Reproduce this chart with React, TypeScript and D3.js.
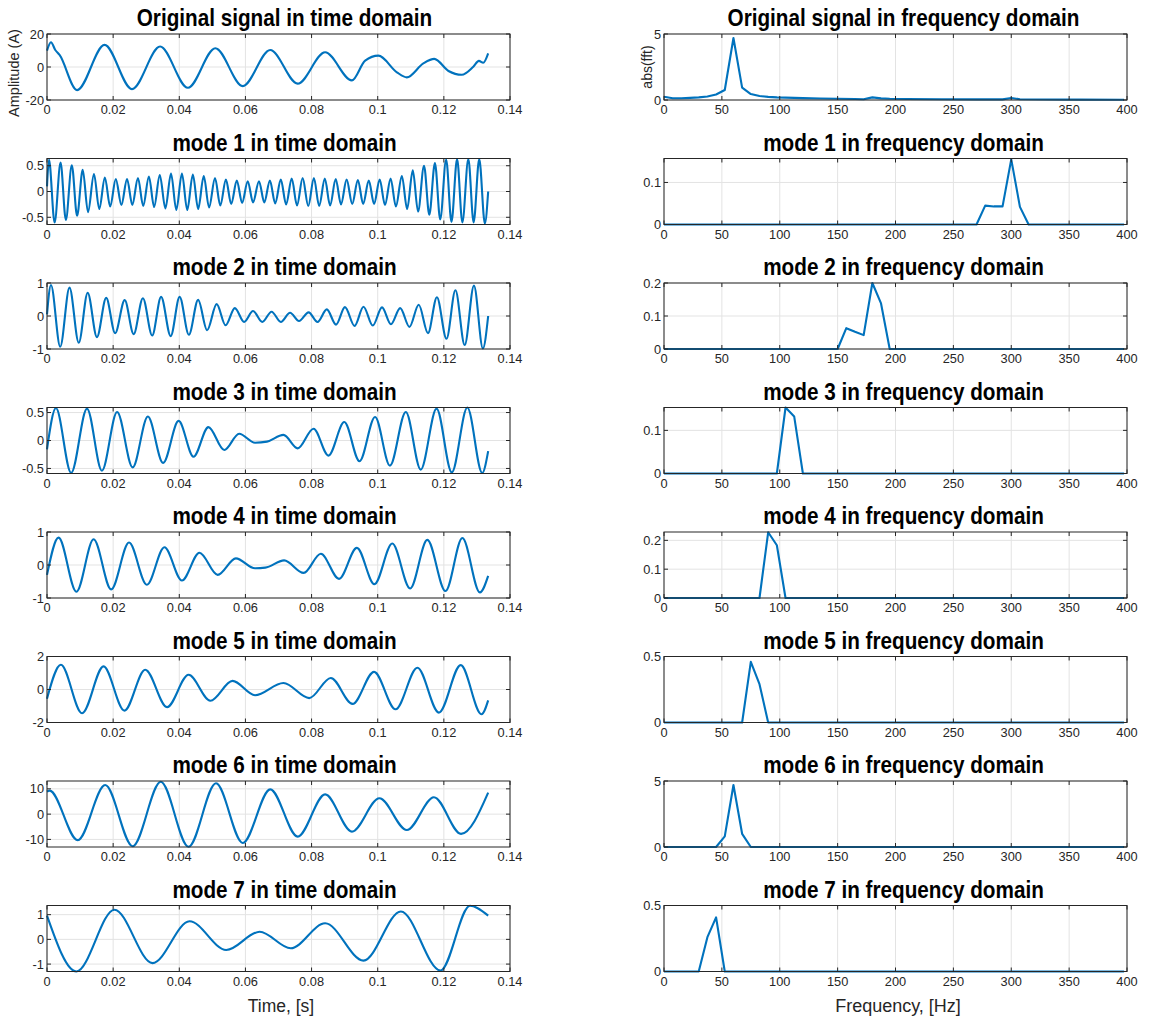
import React from "react";
import * as d3 from "d3";

type P = [number, number];

const timeTicks = [0, 0.02, 0.04, 0.06, 0.08, 0.1, 0.12, 0.14];
const freqTicks = [0, 50, 100, 150, 200, 250, 300, 350, 400];

const leftTitles = [
  "Original signal in time domain",
  "mode 1 in time domain",
  "mode 2 in time domain",
  "mode 3 in time domain",
  "mode 4 in time domain",
  "mode 5 in time domain",
  "mode 6 in time domain",
  "mode 7 in time domain",
];
const rightTitles = [
  "Original signal in frequency domain",
  "mode 1 in frequency domain",
  "mode 2 in frequency domain",
  "mode 3 in frequency domain",
  "mode 4 in frequency domain",
  "mode 5 in frequency domain",
  "mode 6 in frequency domain",
  "mode 7 in frequency domain",
];

const leftYDomains: P[] = [[-20, 20], [-0.64, 0.64], [-1, 1], [-0.59, 0.59], [-1, 1], [-2, 2], [-13, 13.1], [-1.3, 1.37]];
const leftYTicks = [[-20, 0, 20], [-0.5, 0, 0.5], [-1, 0, 1], [-0.5, 0, 0.5], [-1, 0, 1], [-2, 0, 2], [-10, 0, 10], [-1, 0, 1]];
const rightYDomains: P[] = [[0, 5], [0, 0.157], [0, 0.2], [0, 0.153], [0, 0.229], [0, 0.5], [0, 5], [0, 0.5]];
const rightYTicks = [[0, 5], [0, 0.1], [0, 0.1, 0.2], [0, 0.1], [0, 0.1, 0.2], [0, 0.5], [0, 5], [0, 0.5]];

// time-domain series: [time s, amplitude] read at extrema / shoulders
const originalTime: P[] = [
  [0, 9.9], [0.0012, 15], [0.0025, 10.3], [0.0038, 7.3], [0.0091, -14], [0.0174, 13.4], [0.0257, -13.4],
  [0.0342, 12.4], [0.0426, -12.6], [0.0509, 11.4], [0.0592, -11.6], [0.0675, 10.3], [0.0758, -10.1],
  [0.0841, 8.9], [0.0922, -8.1], [0.0962, 3.9], [0.1002, 6.9], [0.1058, -3.2], [0.1088, -6.3],
  [0.1138, 2.2], [0.1171, 4.9], [0.1214, -2.4], [0.1254, -4.7], [0.1289, 0.2], [0.1306, 3.7],
  [0.1319, 2.6], [0.1334, 8.3],
];
const mode1Time: P[] = [
  [0, 0.1], [0.0006, 0.62], [0.0023, -0.6], [0.0041, 0.56], [0.0057, -0.55], [0.0075, 0.51], [0.0091, -0.47],
  [0.0108, 0.42], [0.0124, -0.4], [0.0142, 0.34], [0.0158, -0.34], [0.0175, 0.27], [0.0191, -0.29],
  [0.0208, 0.24], [0.0225, -0.26], [0.0242, 0.24], [0.0258, -0.26], [0.0275, 0.26], [0.0291, -0.28],
  [0.0308, 0.29], [0.0324, -0.3], [0.0341, 0.32], [0.0358, -0.33], [0.0375, 0.35], [0.0391, -0.36],
  [0.0408, 0.35], [0.0424, -0.36], [0.0441, 0.33], [0.0457, -0.34], [0.0474, 0.3], [0.049, -0.31],
  [0.0508, 0.26], [0.0524, -0.27], [0.0541, 0.23], [0.0557, -0.24], [0.0574, 0.21], [0.059, -0.22],
  [0.0607, 0.2], [0.0623, -0.21], [0.0641, 0.2], [0.0657, -0.21], [0.0674, 0.21], [0.069, -0.23],
  [0.0707, 0.23], [0.0723, -0.25], [0.074, 0.25], [0.0756, -0.27], [0.0773, 0.26], [0.079, -0.28],
  [0.0807, 0.26], [0.0823, -0.28], [0.084, 0.25], [0.0856, -0.27], [0.0873, 0.24], [0.0889, -0.25],
  [0.0906, 0.23], [0.0923, -0.24], [0.094, 0.22], [0.0956, -0.24], [0.0973, 0.21], [0.0989, -0.24],
  [0.1006, 0.23], [0.1022, -0.26], [0.1039, 0.25], [0.1055, -0.29], [0.1073, 0.3], [0.1089, -0.34],
  [0.1106, 0.41], [0.1122, -0.39], [0.114, 0.5], [0.1156, -0.45], [0.1173, 0.55], [0.1189, -0.54],
  [0.1207, 0.62], [0.1223, -0.59], [0.124, 0.63], [0.1256, -0.6], [0.1274, 0.63], [0.129, -0.6],
  [0.1307, 0.63], [0.1324, -0.62], [0.1334, 0],
];
const mode2Time: P[] = [
  [0, 0.05], [0.0012, 0.94], [0.004, -0.93], [0.0068, 0.86], [0.0096, -0.81], [0.0123, 0.7], [0.0151, -0.64],
  [0.0179, 0.55], [0.0206, -0.52], [0.0235, 0.48], [0.0262, -0.55], [0.029, 0.54], [0.0318, -0.59],
  [0.0345, 0.58], [0.0374, -0.61], [0.0401, 0.58], [0.0429, -0.57], [0.0457, 0.49], [0.0484, -0.43],
  [0.0513, 0.36], [0.054, -0.28], [0.0568, 0.24], [0.0596, -0.18], [0.0623, 0.15], [0.0651, -0.18],
  [0.0679, 0.13], [0.0707, -0.18], [0.0735, 0.1], [0.0762, -0.15], [0.0791, 0.11], [0.0818, -0.18],
  [0.0846, 0.2], [0.0874, -0.26], [0.0901, 0.27], [0.093, -0.3], [0.0957, 0.28], [0.0985, -0.29],
  [0.1013, 0.26], [0.104, -0.25], [0.1068, 0.24], [0.1096, -0.33], [0.1124, 0.34], [0.1152, -0.52],
  [0.1179, 0.57], [0.1208, -0.69], [0.1235, 0.78], [0.1263, -0.88], [0.1291, 0.92], [0.1318, -0.98],
  [0.1334, 0],
];
const mode3Time: P[] = [
  [0, -0.16], [0.0027, 0.58], [0.0073, -0.58], [0.0121, 0.57], [0.0166, -0.54], [0.0212, 0.51], [0.0259, -0.48],
  [0.0305, 0.43], [0.0351, -0.4], [0.0398, 0.35], [0.0443, -0.29], [0.0488, 0.24], [0.0536, -0.17],
  [0.0581, 0.12], [0.0629, -0.04], [0.0665, -0.02], [0.0715, 0.1], [0.0758, -0.14], [0.0806, 0.21],
  [0.0851, -0.27], [0.0899, 0.33], [0.0945, -0.37], [0.0992, 0.42], [0.1037, -0.45], [0.1085, 0.51],
  [0.113, -0.52], [0.1178, 0.57], [0.1224, -0.57], [0.1271, 0.59], [0.1316, -0.58], [0.1334, -0.19],
];
const mode4Time: P[] = [
  [0, -0.3], [0.0035, 0.83], [0.0089, -0.81], [0.0141, 0.78], [0.0194, -0.74], [0.0248, 0.68], [0.0302, -0.6],
  [0.0355, 0.54], [0.0408, -0.47], [0.0461, 0.37], [0.0516, -0.3], [0.0571, 0.2], [0.0629, -0.1],
  [0.066, -0.08], [0.0717, 0.14], [0.0776, -0.24], [0.0828, 0.34], [0.0883, -0.42], [0.0937, 0.52],
  [0.099, -0.58], [0.1044, 0.65], [0.1098, -0.71], [0.115, 0.76], [0.1205, -0.79], [0.1256, 0.82],
  [0.1309, -0.83], [0.1334, -0.33],
];
const mode5Time: P[] = [
  [0, -0.56], [0.0042, 1.5], [0.0106, -1.44], [0.0171, 1.4], [0.0234, -1.28], [0.0297, 1.2], [0.0363, -1.07],
  [0.0428, 0.89], [0.0494, -0.68], [0.0561, 0.52], [0.0629, -0.35], [0.0715, 0.39], [0.0793, -0.52],
  [0.0858, 0.7], [0.0924, -0.87], [0.0989, 1.07], [0.1054, -1.2], [0.112, 1.32], [0.1185, -1.4],
  [0.1251, 1.48], [0.1314, -1.5], [0.1334, -0.66],
];
const mode6Time: P[] = [
  [0, 8.9], [0.0008, 9.3], [0.0093, -10.3], [0.0176, 11.5], [0.0259, -12.7], [0.0344, 12.8], [0.0428, -12.9],
  [0.0511, 12.2], [0.0592, -11.4], [0.0675, 9.8], [0.0758, -8.9], [0.0841, 7.8], [0.0922, -6.9],
  [0.1005, 6.3], [0.1088, -6.3], [0.117, 6.7], [0.1252, -7.8], [0.1334, 8.5],
];
const mode7Time: P[] = [
  [0, 0.96], [0.0089, -1.3], [0.0204, 1.2], [0.0319, -0.96], [0.0431, 0.73], [0.0542, -0.43], [0.0643, 0.31],
  [0.0737, -0.36], [0.0841, 0.65], [0.0957, -0.86], [0.107, 1.13], [0.119, -1.26], [0.1279, 1.36],
  [0.1334, 0.96],
];

// frequency-domain series: [Hz, abs(fft)]
const originalFreq: P[] = [
  [0, 0.25], [7.5, 0.13], [15, 0.13], [22.5, 0.16], [30, 0.2], [37.5, 0.27], [45, 0.42], [52.5, 0.76],
  [60, 4.7], [67.5, 0.94], [75, 0.45], [82.5, 0.3], [90, 0.24], [97.5, 0.2], [105, 0.18], [120, 0.14],
  [135, 0.11], [150, 0.1], [165, 0.08], [172.5, 0.06], [180, 0.2], [187.5, 0.12], [195, 0.09], [210, 0.08],
  [240, 0.06], [270, 0.05], [292.5, 0.05], [300, 0.15], [307.5, 0.06], [330, 0.04], [360, 0.03], [397.5, 0.02],
];
const mode1Freq: P[] = [[0, 0], [270, 0], [277.5, 0.045], [285, 0.043], [292.5, 0.043], [300, 0.155], [307.5, 0.042], [315, 0], [397.5, 0]];
const mode2Freq: P[] = [[0, 0], [150, 0], [157.5, 0.063], [165, 0.052], [172.5, 0.042], [180, 0.2], [187.5, 0.138], [195, 0], [397.5, 0]];
const mode3Freq: P[] = [[0, 0], [97.5, 0], [105, 0.153], [112.5, 0.132], [120, 0], [397.5, 0]];
const mode4Freq: P[] = [[0, 0], [82.5, 0], [90, 0.228], [97.5, 0.183], [105, 0], [397.5, 0]];
const mode5Freq: P[] = [[0, 0], [67.5, 0], [75, 0.46], [82.5, 0.29], [90, 0], [397.5, 0]];
const mode6Freq: P[] = [[0, 0], [45, 0], [52.5, 0.8], [60, 4.7], [67.5, 1.0], [75, 0], [397.5, 0]];
const mode7Freq: P[] = [[0, 0], [30, 0], [37.5, 0.26], [45, 0.41], [52.5, 0], [397.5, 0]];

const timeSeries = [originalTime, mode1Time, mode2Time, mode3Time, mode4Time, mode5Time, mode6Time, mode7Time];
const freqSeries = [originalFreq, mode1Freq, mode2Freq, mode3Freq, mode4Freq, mode5Freq, mode6Freq, mode7Freq];

const W = 1153;
const H = 1021;
const PLOT_W = 463;
const PLOT_H = 66;
const ROW0 = 34;
const ROW_STEP = 124.5;
const LEFT_X = 47;
const RIGHT_X = 664;
const LINE = "#0072BD";
const AX = "#262626";
const GRID = "#e3e3e3";
const FONT = "'Liberation Sans', Arial, Helvetica, sans-serif";

function fmt(v: number) {
  return String(v);
}

type PanelProps = {
  x0: number;
  y0: number;
  xDomain: P;
  xTicks: number[];
  yDomain: P;
  yTicks: number[];
  data: P[];
  smooth: boolean;
  title: string;
  titleOffset: number;
};

function Panel({ x0, y0, xDomain, xTicks, yDomain, yTicks, data, smooth, title, titleOffset }: PanelProps) {
  const x = d3.scaleLinear().domain(xDomain).range([x0, x0 + PLOT_W]);
  const y = d3.scaleLinear().domain(yDomain).range([y0 + PLOT_H, y0]);
  const line = d3
    .line<P>()
    .x((d) => x(d[0]))
    .y((d) => y(d[1]))
    .curve(smooth ? d3.curveMonotoneX : d3.curveLinear);
  const tl = 4;
  const bottom = y0 + PLOT_H;
  const right = x0 + PLOT_W;
  const tx = (x0 + right) / 2 + titleOffset;
  const ty = y0 - 8;
  return (
    <g>
      {xTicks.map((t) => (
        <line key={"gx" + t} x1={x(t)} x2={x(t)} y1={y0} y2={bottom} stroke={GRID} strokeWidth={1} />
      ))}
      {yTicks.map((t) => (
        <line key={"gy" + t} x1={x0} x2={right} y1={y(t)} y2={y(t)} stroke={GRID} strokeWidth={1} />
      ))}
      <path d={line(data) || ""} fill="none" stroke={LINE} strokeWidth={2.1} strokeLinejoin="round" />
      <rect x={x0} y={y0} width={PLOT_W} height={PLOT_H} fill="none" stroke={AX} strokeWidth={1} />
      {xTicks.map((t) => (
        <g key={"tx" + t}>
          <line x1={x(t)} x2={x(t)} y1={bottom} y2={bottom - tl} stroke={AX} />
          <line x1={x(t)} x2={x(t)} y1={y0} y2={y0 + tl} stroke={AX} />
          <text x={x(t)} y={bottom + 14} textAnchor="middle" fontSize={12.8} fill={AX} fontFamily={FONT}>
            {fmt(t)}
          </text>
        </g>
      ))}
      {yTicks.map((t) => (
        <g key={"ty" + t}>
          <line x1={x0} x2={x0 + tl} y1={y(t)} y2={y(t)} stroke={AX} />
          <line x1={right} x2={right - tl} y1={y(t)} y2={y(t)} stroke={AX} />
          <text x={x0 - 3} y={y(t) + 4.5} textAnchor="end" fontSize={12.8} fill={AX} fontFamily={FONT}>
            {fmt(t)}
          </text>
        </g>
      ))}
      <text
        transform={`translate(${tx},${ty}) scale(0.9,1)`}
        textAnchor="middle"
        fontSize={23}
        fontWeight="bold"
        fill="#000"
        fontFamily={FONT}
      >
        {title}
      </text>
    </g>
  );
}

export default function App() {
  return (
    <div style={{ position: "absolute", left: 0, top: 0 }}>
      <svg width={W} height={H} style={{ display: "block", background: "#fff" }}>
        {timeSeries.map((s, i) => (
          <Panel
            key={"L" + i}
            x0={LEFT_X}
            y0={ROW0 + i * ROW_STEP}
            xDomain={[0, 0.14]}
            xTicks={timeTicks}
            yDomain={leftYDomains[i]}
            yTicks={leftYTicks[i]}
            data={s}
            smooth={true}
            title={leftTitles[i]}
            titleOffset={6}
          />
        ))}
        {freqSeries.map((s, i) => (
          <Panel
            key={"R" + i}
            x0={RIGHT_X}
            y0={ROW0 + i * ROW_STEP}
            xDomain={[0, 400]}
            xTicks={freqTicks}
            yDomain={rightYDomains[i]}
            yTicks={rightYTicks[i]}
            data={s}
            smooth={false}
            title={rightTitles[i]}
            titleOffset={8}
          />
        ))}
        <text
          transform={`translate(19,${ROW0 + PLOT_H / 2 + 6}) rotate(-90)`}
          textAnchor="middle"
          fontSize={14.5}
          fill={AX}
          fontFamily={FONT}
        >
          Amplitude (A)
        </text>
        <text
          transform={`translate(652,${ROW0 + PLOT_H / 2}) rotate(-90)`}
          textAnchor="middle"
          fontSize={14}
          fill={AX}
          fontFamily={FONT}
        >
          abs(fft)
        </text>
        <text x={281} y={1012} textAnchor="middle" fontSize={17.5} fill={AX} fontFamily={FONT}>
          Time, [s]
        </text>
        <text x={898} y={1012} textAnchor="middle" fontSize={18} fill={AX} fontFamily={FONT}>
          Frequency, [Hz]
        </text>
      </svg>
    </div>
  );
}
